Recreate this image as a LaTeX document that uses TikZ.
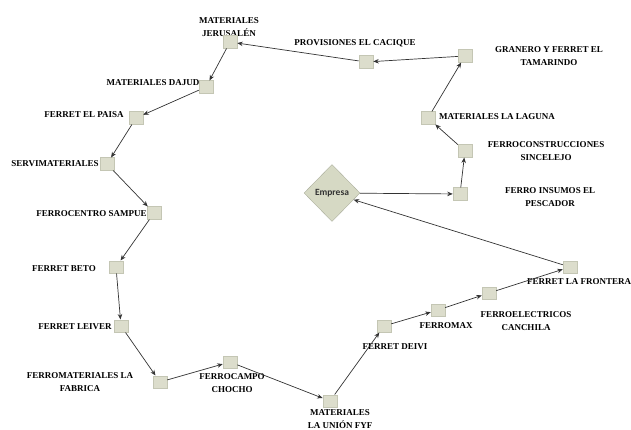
\documentclass[tikz,border=0pt]{standalone}
\usepackage{fontspec}
\setmainfont{Liberation Serif}
\newfontfamily\empfont{Carlito}
\usetikzlibrary{arrows.meta,shapes.geometric}
\definecolor{boxfill}{HTML}{DCDDCC}
\definecolor{boxline}{HTML}{C4C6B4}
\definecolor{dfill}{HTML}{D6D9C4}
\definecolor{edgecol}{HTML}{333333}
\tikzset{
  sq/.style={draw=boxline,fill=boxfill,line width=0.5pt,minimum width=14pt,minimum height=12.5pt,inner sep=0pt},
  lbl/.style={font=\fontsize{9}{12.5}\selectfont\bfseries,text=black,align=center,inner sep=0pt},
  arr/.style={draw=edgecol,line width=0.7pt,-{Stealth[length=5.5pt,width=4.5pt]}},
  dia/.style={diamond,draw=dfill!80!black,fill=dfill,line width=0.4pt,minimum width=56pt,minimum height=57pt,inner sep=0pt,aspect=1,font=\empfont\fontsize{9.5}{10}\selectfont\bfseries,text=black!80}
}
\begin{document}
\begin{tikzpicture}[x=1pt,y=-1pt]
\useasboundingbox (0,0) rectangle (631,430);
% labels
\node[lbl] (jerL) at (229,27) {MATERIALES\\JERUSALÉN};
\node[lbl] (proL) at (355,43) {PROVISIONES EL CACIQUE};
\node[lbl] (graL) at (549,56) {GRANERO Y FERRET EL\\TAMARINDO};
\node[lbl] (lagL) at (497,117) {MATERIALES LA LAGUNA};
\node[lbl] (conL) at (546,151) {FERROCONSTRUCCIONES\\SINCELEJO};
\node[lbl] (insL) at (550,197) {FERRO INSUMOS EL\\PESCADOR};
\node[lbl] (dajL) at (153,83) {MATERIALES DAJUD};
\node[lbl] (paiL) at (84,115) {FERRET EL PAISA};
\node[lbl] (serL) at (55,164) {SERVIMATERIALES};
\node[lbl] (samL) at (94,214) {FERROCENTRO SAMPUES};
\node[lbl] (betL) at (64,269) {FERRET BETO};
\node[lbl] (leiL) at (75,327) {FERRET LEIVER};
\node[lbl] (fabL) at (80,382) {FERROMATERIALES LA\\FABRICA};
\node[lbl] (camL) at (232,383) {FERROCAMPO\\CHOCHO};
\node[lbl] (uniL) at (340,419) {MATERIALES\\LA UNIÓN FYF};
\node[lbl] (deiL) at (395,347) {FERRET DEIVI};
\node[lbl] (maxL) at (446,326) {FERROMAX};
\node[lbl] (eleL) at (526,321) {FERROELECTRICOS\\CANCHILA};
\node[lbl] (froL) at (579,282) {FERRET LA FRONTERA};
% nodes
\node[dia] (emp) at (332,193) {Empresa};
\node[sq] (ins) at (460,194) {};
\node[sq] (con) at (465,151) {};
\node[sq] (lag) at (428,118) {};
\node[sq] (gra) at (465,56) {};
\node[sq] (pro) at (366,62) {};
\node[sq] (jer) at (230,42) {};
\node[sq] (daj) at (206,87) {};
\node[sq] (pai) at (136,118) {};
\node[sq] (ser) at (107,164) {};
\node[sq] (sam) at (154,213) {};
\node[sq] (bet) at (116,267) {};
\node[sq] (lei) at (121,326) {};
\node[sq] (fab) at (160,382) {};
\node[sq] (cam) at (230,362) {};
\node[sq] (uni) at (330,401) {};
\node[sq] (dei) at (384,326) {};
\node[sq] (max) at (438,310) {};
\node[sq] (ele) at (489,293) {};
\node[sq] (fro) at (570,267) {};
% edges
\draw[arr] (emp) -- (ins);
\draw[arr] (ins) -- (con);
\draw[arr] (con) -- (lag);
\draw[arr] (lag) -- (gra);
\draw[arr] (gra) -- (pro);
\draw[arr] (pro) -- (jer);
\draw[arr] (jer) -- (daj);
\draw[arr] (daj) -- (pai);
\draw[arr] (pai) -- (ser);
\draw[arr] (ser) -- (sam);
\draw[arr] (sam) -- (bet);
\draw[arr] (bet) -- (lei);
\draw[arr] (lei) -- (fab);
\draw[arr] (fab) -- (cam);
\draw[arr] (cam) -- (uni);
\draw[arr] (uni) -- (dei);
\draw[arr] (dei) -- (max);
\draw[arr] (max) -- (ele);
\draw[arr] (ele) -- (fro);
\draw[arr] (fro) -- (emp);
\end{tikzpicture}
\end{document}
